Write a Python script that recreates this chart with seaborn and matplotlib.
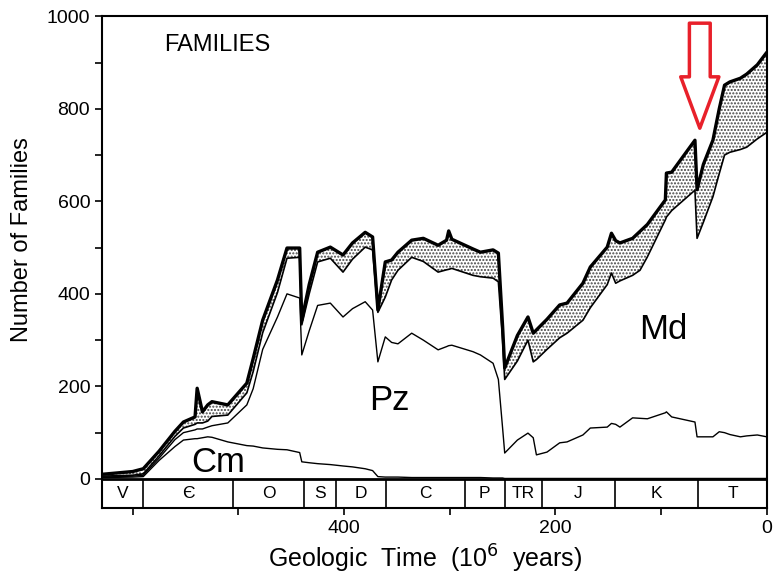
import numpy as np
import pandas as pd
import matplotlib
matplotlib.use('Agg')
import matplotlib.pyplot as plt
import seaborn as sns

# Geologic time (Myr before present) and cumulative family counts
time = [629, 600, 590, 575, 560, 552, 541, 539, 534, 529, 525, 510, 492, 486, 477,
        463, 454, 442, 440, 433, 425, 413, 401, 392, 380, 373, 368, 361, 355, 349,
        336, 325, 311, 303, 301, 298, 278, 271, 259, 254, 250, 248, 236, 226, 221,
        218, 208, 196, 189, 174, 167, 151, 147, 143, 139, 127, 120, 113, 96, 95,
        90, 68, 66, 60, 51, 45, 40, 35, 25, 19, 9, 0]
# Cambrian fauna
cm = [3, 4, 5, 40, 70, 84, 87, 87, 89, 91, 90, 80, 72, 71, 67,
      64, 63, 57, 37, 35, 33, 31, 28, 26, 22, 18, 5, 4, 4, 4,
      3, 3, 3, 3, 3, 3, 3, 3, 2, 2, 2, 1, 1, 1, 1,
      1, 1, 1, 1, 1, 1, 1, 1, 1, 1, 1, 1, 1, 1, 1,
      1, 1, 1, 1, 1, 1, 1, 1, 1, 1, 1, 1]
# Cambrian + Paleozoic fauna
cm_pz = [4, 6, 8, 45, 85, 100, 106, 108, 108, 112, 115, 121, 160, 195, 280,
         350, 400, 391, 268, 320, 375, 380, 350, 368, 383, 365, 253, 307, 295, 292,
         315, 300, 279, 286, 288, 289, 275, 268, 250, 215, 110, 56, 84, 99, 89,
         52, 58, 78, 80, 95, 110, 112, 120, 118, 112, 132, 131, 130, 143, 145,
         134, 123, 91, 91, 91, 102, 100, 96, 91, 93, 95, 91]
# Cambrian + Paleozoic + Modern fauna
cm_pz_md = [6, 8, 11, 50, 92, 110, 118, 121, 121, 125, 135, 138, 186, 232, 316,
            403, 477, 479, 333, 400, 469, 477, 447, 475, 501, 495, 360, 393, 430, 451,
            479, 470, 447, 452, 453, 455, 440, 437, 434, 426, 300, 215, 255, 300, 253,
            258, 280, 305, 315, 343, 370, 420, 445, 423, 428, 440, 451, 480, 560, 566,
            580, 624, 520, 555, 610, 660, 700, 706, 712, 717, 735, 749]
# all families (upper edge of stippled field)
total = [10, 16, 22, 60, 103, 123, 134, 196, 145, 160, 167, 160, 207, 260, 343,
         430, 499, 499, 343, 420, 490, 501, 484, 510, 533, 523, 365, 469, 473, 490,
         516, 520, 505, 516, 536, 518, 497, 490, 495, 488, 330, 240, 310, 350, 315,
         322, 345, 376, 380, 423, 458, 501, 531, 515, 510, 520, 535, 550, 603, 661,
         663, 732, 625, 680, 732, 800, 851, 858, 866, 875, 895, 922]

# geologic periods
period_bounds = [629, 590, 505, 438, 408, 360, 286, 248, 213, 144, 65, 0]
period_labels = ['V', 'Є', 'O', 'S', 'D', 'C', 'P', 'TR', 'J', 'K', 'T']

df = pd.DataFrame({'time': time, 'cm': cm, 'cm_pz': cm_pz,
                   'cm_pz_md': cm_pz_md, 'total': total})

sns.set_style('ticks')
plt.rcParams['font.family'] = ['Liberation Sans', 'DejaVu Sans']
plt.rcParams['hatch.linewidth'] = 1.0
plt.rcParams['text.color'] = 'black'
plt.rcParams['axes.labelcolor'] = 'black'
plt.rcParams['xtick.color'] = 'black'
plt.rcParams['ytick.color'] = 'black'

fig = plt.figure(figsize=(7.73, 5.80), dpi=100)
ax = fig.add_axes([0.132, 0.124, 0.860, 0.848])

# stippled field
ax.fill_between(df['time'], df['cm_pz_md'], df['total'], facecolor='white',
                edgecolor='#444444', hatch='.....', linewidth=0, zorder=1)

sns.lineplot(data=df, x='time', y='cm', color='black', lw=1.0, ax=ax, sort=False, zorder=3)
sns.lineplot(data=df, x='time', y='cm_pz', color='black', lw=1.0, ax=ax, sort=False, zorder=3)
sns.lineplot(data=df, x='time', y='cm_pz_md', color='black', lw=1.2, ax=ax, sort=False, zorder=3)
sns.lineplot(data=df, x='time', y='total', color='black', lw=2.4, ax=ax, sort=False, zorder=4)

ax.set_xlim(629, 0)
ax.set_ylim(-63, 1000)

# period band below zero
ax.axhline(0, color='black', lw=2.0, zorder=5)
ax.vlines(period_bounds[1:-1], -63, 0, color='black', lw=1.2)
for i, lab in enumerate(period_labels):
    mid = (period_bounds[i] + period_bounds[i + 1]) / 2
    ax.text(mid, -31, lab, ha='center', va='center', fontsize=12.5)

# field labels
ax.text(519, 35, 'Cm', ha='center', va='center', fontsize=25)
ax.text(357, 170, 'Pz', ha='center', va='center', fontsize=25)
ax.text(98, 322, 'Md', ha='center', va='center', fontsize=25)
ax.text(520, 937, 'FAMILIES', ha='center', va='center', fontsize=17)

# red arrow marking the end-Cretaceous drop
ax.annotate('', xy=(63.4, 758), xytext=(63.4, 985),
            arrowprops=dict(arrowstyle='simple,head_length=0.74,head_width=0.55,tail_width=0.3',
                            fc='white', ec='#e8202a', lw=2.5, mutation_scale=50,
                            shrinkA=0, shrinkB=0), zorder=6)

ax.set_xticks(range(0, 700, 100))
ax.set_xticklabels(['0', '', '200', '', '400', '', ''])
ax.set_yticks(range(0, 1100, 100))
ax.set_yticklabels(['0', '', '200', '', '400', '', '600', '', '800', '', '1000'])
ax.tick_params(direction='out', length=5, width=1.2, labelsize=14)
for s in ax.spines.values():
    s.set_visible(True)
    s.set_linewidth(1.5)
    s.set_color('black')

ax.set_xlabel('Geologic  Time  (10$^6$  years)', fontsize=18)
ax.set_ylabel('Number of Families', fontsize=17)
ax.xaxis.set_label_coords(0.486, -0.07)
ax.yaxis.set_label_coords(-0.104, 0.545)

fig.savefig('out.png', dpi=100)
